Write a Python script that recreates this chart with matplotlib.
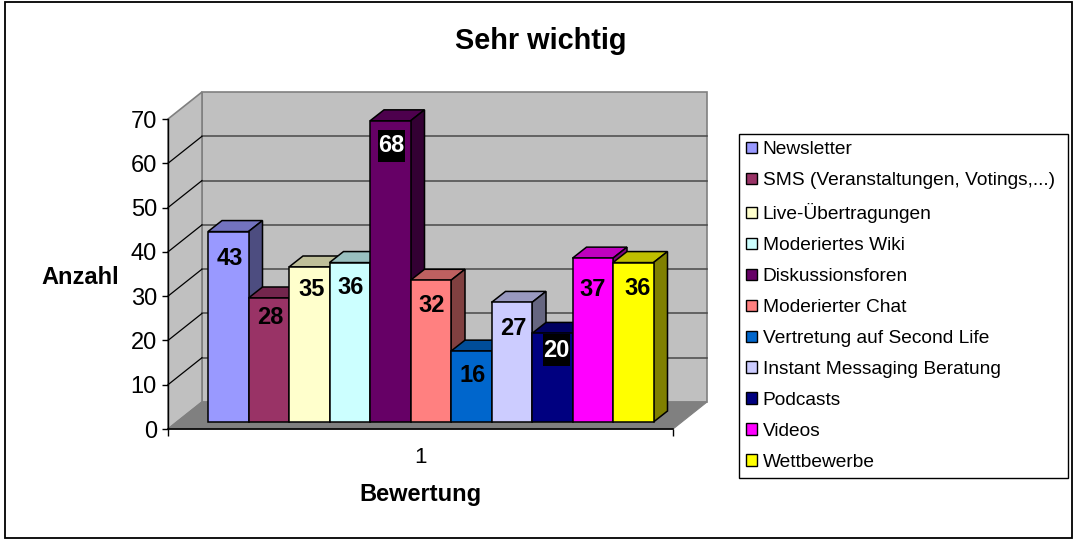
import matplotlib
matplotlib.use("Agg")
import matplotlib.pyplot as plt
from matplotlib.patches import Patch, Polygon, Rectangle
import numpy as np

plt.rcParams['font.family'] = ['Liberation Sans', 'DejaVu Sans']

# Data
categories = ["Newsletter", "SMS (Veranstaltungen, Votings,...)", "Live-Übertragungen",
              "Moderiertes Wiki", "Diskussionsforen", "Moderierter Chat",
              "Vertretung auf Second Life", "Instant Messaging Beratung",
              "Podcasts", "Videos", "Wettbewerbe"]
values = [43, 28, 35, 36, 68, 32, 16, 27, 20, 37, 36]
yticks = [0, 10, 20, 30, 40, 50, 60, 70]

# Styles
colors = ["#9999FF", "#993366", "#FFFFCC", "#CCFFFF", "#660066", "#FF8080",
          "#0066CC", "#CCCCFF", "#000080", "#FF00FF", "#FFFF00"]
label_drop = [27, 20, 22, 25, 25, 25, 24, 26, 17, 31, 26]  # px below bar top
label_shift = [2, 2, 2, 1, 1, 1, 1, 2, 4, 0, 4]  # px right of bar centre
dark_labels = [4, 8]  # white text on black box

W, H = 1077, 543
fig = plt.figure(figsize=(W / 100, H / 100), dpi=100, facecolor="white")
ax = fig.add_axes([168 / W, (H - 429) / H, 505 / W, 310 / H])

ux = 40.5  # px per bar
uy = 310 / 70  # px per value
x0 = -0.5 - 40 / ux
x1 = x0 + 505 / ux
ax.set_xlim(x0, x1)
ax.set_ylim(0, 70)
ax.patch.set_visible(False)

# back wall, side wall and floor
wx = 34 / ux
wy = 27 / uy
ax.add_patch(Polygon([[x0 + wx, wy], [x1 + wx, wy], [x1 + wx, 70 + wy], [x0 + wx, 70 + wy]],
                     fc="#C0C0C0", ec="#808080", lw=1.2, clip_on=False, zorder=1))
ax.add_patch(Polygon([[x0, 0], [x0 + wx, wy], [x0 + wx, 70 + wy], [x0, 70]],
                     fc="#C0C0C0", ec="#808080", lw=1.2, clip_on=False, zorder=1))
ax.add_patch(Polygon([[x0, 0], [x1, 0], [x1 + wx, wy], [x0 + wx, wy]],
                     fc="#808080", ec="#808080", lw=0.8, clip_on=False, zorder=2))
for t in yticks[1:-1]:
    ax.plot([x0 + wx, x1 + wx], [t + wy, t + wy], color="#484848", lw=1.1, clip_on=False, zorder=1.5)
    ax.plot([x0, x0 + wx], [t, t + wy], color="black", lw=0.9, clip_on=False, zorder=1.5)

# bars
base = 7 / uy
dx = 14 / ux
dy = 11 / uy
for i, v in enumerate(values):
    z = 3 + i
    c = np.array(matplotlib.colors.to_rgb(colors[i]))
    top = base + v
    ax.bar(i, v, width=1, bottom=base, color=colors[i], edgecolor="black", lw=1.1, zorder=z + 0.2, clip_on=False)
    ax.add_patch(Polygon([[i - 0.5, top], [i + 0.5, top], [i + 0.5 + dx, top + dy], [i - 0.5 + dx, top + dy]],
                         fc=c * 0.75, ec="black", lw=1.1, zorder=z, clip_on=False))
    ax.add_patch(Polygon([[i + 0.5, base], [i + 0.5 + dx, base + dy], [i + 0.5 + dx, top + dy], [i + 0.5, top]],
                         fc=c * 0.5, ec="black", lw=1.1, zorder=z, clip_on=False))

# data labels go on top of everything
for i, v in enumerate(values):
    ypos = base + v - label_drop[i] / uy
    xpos = i + label_shift[i] / ux
    if i in dark_labels:
        ax.add_patch(Rectangle((xpos - 13.5 / ux, ypos - 16 / uy), 27 / ux, 32 / uy, fc="black", ec="none", zorder=29))
        ax.text(xpos, ypos, str(v), ha="center", va="center", fontsize=17, fontweight="bold", color="white", zorder=30)
    else:
        ax.text(xpos, ypos, str(v), ha="center", va="center", fontsize=17, fontweight="bold", color="black", zorder=30)

# axes
for s in ["top", "right"]:
    ax.spines[s].set_visible(False)
ax.spines["left"].set_linewidth(1.0)
ax.spines["bottom"].set_linewidth(1.2)
ax.spines["left"].set_zorder(20)
ax.spines["bottom"].set_zorder(20)
ax.set_yticks(yticks)
ax.tick_params(axis="y", length=4, width=1, labelsize=17, pad=4)
ax.set_xticks([x0, x1])
ax.set_xticklabels([])
ax.tick_params(axis="x", length=5, width=1)
ax.set_xticks([(x0 + x1) / 2], minor=True)
ax.set_xticklabels(["1"], minor=True, fontsize=16)
ax.tick_params(axis="x", which="minor", length=0, pad=13)

fig.text(541 / W, 1 - 41 / H, "Sehr wichtig", ha="center", va="center", fontsize=20.8, fontweight="bold")
fig.text(80 / W, 1 - 277 / H, "Anzahl", ha="center", va="center", fontsize=17, fontweight="bold")
fig.text(420 / W, 1 - 494 / H, "Bewertung", ha="center", va="center", fontsize=17, fontweight="bold")

# legend
handles = [Patch(fc=c, ec="black", lw=1) for c in colors]
fig.legend(handles, categories, loc="upper left", mode="expand",
           bbox_to_anchor=(739 / W, 1 - 479 / H, 329 / W, 345 / H),
           fontsize=13.8, fancybox=False, framealpha=1, edgecolor="black", borderaxespad=0,
           handlelength=0.58, handleheight=0.58, handletextpad=0.28, labelspacing=0.73,
           borderpad=0.38)

# outer frame
fig.add_artist(Rectangle((5 / W, 1 - 538 / H), 1067 / W, 536 / H, transform=fig.transFigure,
                         fc="none", ec="black", lw=1.3))

fig.savefig("out.png", dpi=100)
